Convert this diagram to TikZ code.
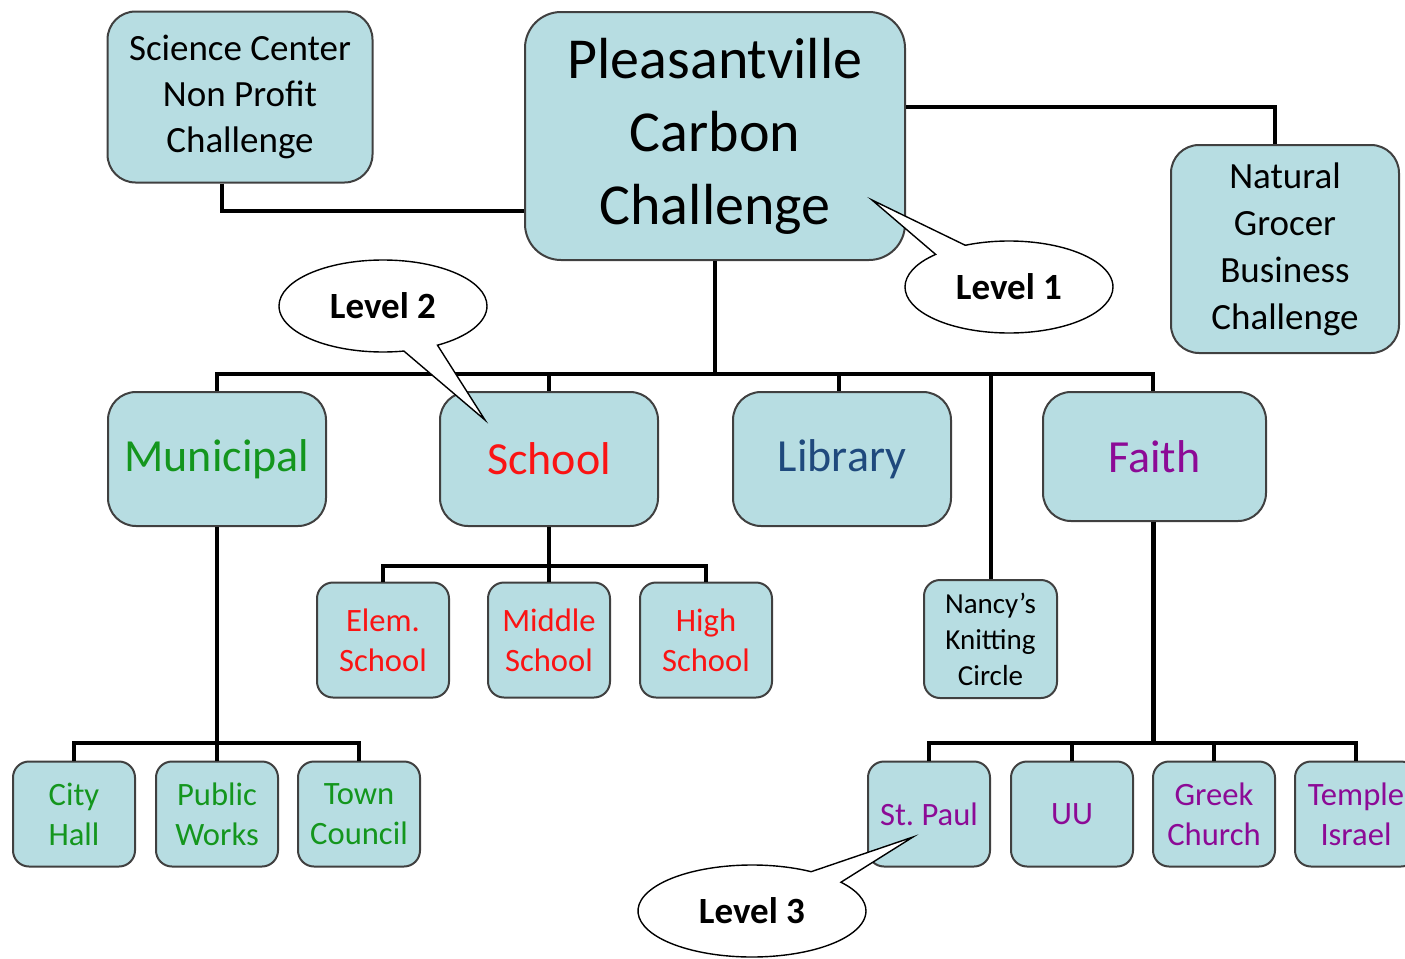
\documentclass[tikz,border=0pt]{standalone}
\usepackage{fontspec}
\setmainfont{Carlito}
\usetikzlibrary{shapes.callouts}
\definecolor{boxfill}{RGB}{183,221,226}
\definecolor{boxline}{RGB}{64,64,64}
\definecolor{munigreen}{RGB}{20,150,30}
\definecolor{schoolred}{RGB}{250,20,20}
\definecolor{libblue}{RGB}{31,73,125}
\definecolor{faithpurple}{RGB}{140,10,150}

\begin{document}
\begin{tikzpicture}[x=0.5pt,y=-0.5pt,
unit/.style={draw=boxline,line width=1pt,fill=boxfill,rounded corners=8pt,align=center,inner sep=0pt},
big/.style={unit,rounded corners=14pt},
branch/.style={big,minimum width=109pt,minimum height=67pt,font=\fontsize{23}{28}\selectfont},
small/.style={unit,minimum width=61pt,minimum height=52.5pt,font=\fontsize{16.3}{20}\selectfont},
link/.style={line width=2pt},
bubble/.style={ellipse callout,draw=black,line width=0.7pt,fill=white,minimum width=104pt,minimum height=46pt,callout pointer arc=20,font=\bfseries\fontsize{18.5}{22}\selectfont}]
\useasboundingbox (0,0) rectangle (1405,959);
% top level
\node[big,rounded corners=18pt,minimum width=190pt,minimum height=124pt,font=\fontsize{29}{36.5}\selectfont] (pcc) at (715,136) {Pleasantville\\Carbon\\Challenge};
\node[big,minimum width=132.5pt,minimum height=85.5pt,font=\fontsize{18.5}{23}\selectfont] (sci) at (240,97) {Science Center\\Non Profit\\Challenge};
\node[big,minimum width=114pt,minimum height=104pt,font=\fontsize{18.5}{23.5}\selectfont] (nat) at (1285,249) {Natural\\Grocer\\Business\\Challenge};
% level 2
\node[branch,text=munigreen] (mun) at (217,459) {Municipal};
\node[branch,text=schoolred] (sch) at (549,459) {School};
\node[branch,text=libblue] (lib) at (842,459) {Library};
\node[branch,minimum width=111.5pt,minimum height=64.5pt,text=faithpurple] (fai) at (1154.5,456.5) {Faith};
\node[small,minimum height=59pt,minimum width=66.5pt,font=\fontsize{14.5}{18}\selectfont] (knit) at (990.5,639) {Nancy's\\Knitting\\Circle};
% level 3
\node[small,minimum width=66pt,minimum height=57.5pt,text=schoolred] (elem) at (383,640) {Elem.\\School};
\node[small,minimum height=57.5pt,text=schoolred] (mid) at (549,640) {Middle\\School};
\node[small,minimum width=66pt,minimum height=57.5pt,text=schoolred] (high) at (706,640) {High\\School};
\node[small,text=munigreen] (city) at (74,814) {City\\Hall};
\node[small,text=munigreen] (pub) at (217,814) {Public\\Works};
\node[small,text=munigreen] (town) at (359,814) {Town\\Council};
\node[small,text=faithpurple] (paul) at (929,814) {St.\ Paul};
\node[small,text=faithpurple] (uu) at (1072,814) {UU};
\node[small,text=faithpurple] (greek) at (1214,814) {Greek\\Church};
\node[small,text=faithpurple] (temple) at (1356,814) {Temple\\Israel};
% connectors
\coordinate (bus1) at (715,374);
\coordinate (bus2) at (549,566);
\coordinate (bus3) at (217,743);
\coordinate (bus4) at (1153,743);
\draw[link] ([xshift=-9pt]sci.south) |- ([yshift=-37.5pt]pcc.west);
\draw[link] ([yshift=14.5pt]pcc.east) -| ([xshift=-5pt]nat.north);
\draw[link] (pcc.south) -- (bus1);
\draw[link] (bus1) -| (mun.north);
\draw[link] (bus1) -| (sch.north);
\draw[link] (bus1) -| ([xshift=-1.5pt]lib.north);
\draw[link] (bus1) -| (knit.north);
\draw[link] (bus1) -| ([xshift=-0.75pt]fai.north);
\draw[link] (sch.south) -- (bus2);
\draw[link] (bus2) -| (elem.north);
\draw[link] (bus2) -- (mid.north);
\draw[link] (bus2) -| (high.north);
\draw[link] (mun.south) -- (bus3);
\draw[link] (bus3) -| (city.north);
\draw[link] (bus3) -- (pub.north);
\draw[link] (bus3) -| (town.north);
\draw[link,line width=2.5pt] ([xshift=-0.75pt]fai.south) -- (bus4);
\draw[link] (bus4) -| (paul.north);
\draw[link] (bus4) -| (uu.north);
\draw[link] (bus4) -| (greek.north);
\draw[link] (bus4) -| (temple.north);
% callouts
\node[bubble,callout absolute pointer={(872,200)}] (lvl1) at (1009,287) {Level 1};
\node[bubble,callout absolute pointer={(485,420)}] (lvl2) at (383,306) {Level 2};
\node[bubble,minimum width=114pt,callout absolute pointer={(913,837)}] (lvl3) at (752,911) {Level 3};
\end{tikzpicture}
\end{document}
